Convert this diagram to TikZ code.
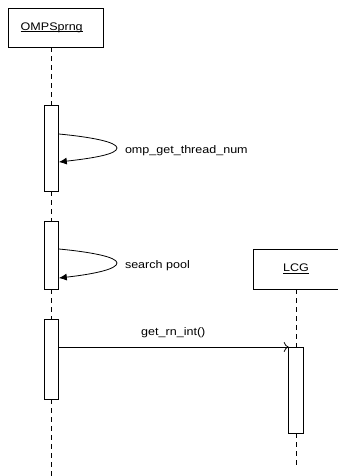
\documentclass[tikz,border=0pt]{standalone}
\usepackage{fontspec}
\setmainfont{Liberation Sans}
\usepackage{graphicx}
\usetikzlibrary{arrows.meta,calc}
% label font: Arial-like, slightly widened
\newcommand\lblfont{\fontsize{11}{13}\selectfont}
\newcommand\wide[1]{\scalebox{1.14}[1]{#1}}
% underline that sits just under the baseline
\newcommand\baseul[1]{\setbox0\hbox{#1}\rlap{\rule[-1.8pt]{\wd0}{0.7pt}}\box0}
\begin{document}
\begin{tikzpicture}[x=1pt,y=-1pt,
  every node/.style={inner sep=0pt,outer sep=0pt},
  head/.style={draw,line width=0.8pt,font=\lblfont},
  act/.style={draw,fill=white,line width=0.8pt,minimum width=14.6pt},
  life/.style={line width=0.8pt,dash pattern=on 5pt off 4pt},
  msg/.style={line width=0.8pt},
  lbl/.style={font=\lblfont}]
\useasboundingbox[fill=white] (0,0) rectangle (337,476);

% object headers
\node[head,minimum width=95pt,minimum height=39pt] (omp) at (55.6,27.6)
  {\hspace*{-7.8pt}\wide{\baseul{OMPSprng}}};
\node[head,minimum width=86pt,minimum height=40pt] (lcg) at (296,269)
  {\wide{\baseul{LCG}}};

% activation bars
\node[act,minimum height=86pt] (a1) at (51.5,148) {};
\node[act,minimum height=68pt] (a2) at (51.5,255) {};
\node[act,minimum height=80pt] (a3) at (51.5,359) {};
\node[act,minimum height=86pt] (a4) at (296,390) {};

\coordinate (ompend) at (51.5,476);
\coordinate (lcgend) at (296,468);

% lifelines
\draw[life] (omp.south -| a1) -- (a1.north);
\draw[life] (a1.south) -- (a2.north);
\draw[life] (a2.south) -- (a3.north);
\draw[life] (a3.south) -- (ompend);
\draw[life] (lcg.south) -- (a4.north);
\draw[life] (a4.south) -- (lcgend);

% self calls
\coordinate (s1) at ($(a1.east)+(0,-14)$);
\coordinate (t1) at ($(a1.east)+(58.2,0)$);
\coordinate (e1) at ($(a1.east)+(0,14)$);
\draw[msg,-{Latex[length=8pt,width=7pt]}] (s1)
  .. controls +(32,3) and +(0,-6) .. (t1)
  .. controls +(0,6) and +(36,-4) .. (e1);
\node[lbl,anchor=base west] (l1) at (125,153) {\wide{omp\_get\_thread\_num}};

\coordinate (s2) at ($(a2.north east)+(0,28)$);
\coordinate (t2) at ($(a2.north east)+(58.2,42)$);
\coordinate (e2) at ($(a2.north east)+(0,57)$);
\draw[msg,-{Latex[length=8pt,width=7pt]}] (s2)
  .. controls +(32,3) and +(0,-6) .. (t2)
  .. controls +(0,6) and +(36,-4) .. (e2);
\node[lbl,anchor=base west] (l2) at (125,268.3) {\wide{search pool}};

% call to LCG
\draw[msg,-{To[length=5pt,width=10pt]}] (a3.east |- a4.north west) -- (a4.north west);
\node[lbl,anchor=base] (l3) at (173.3,335.5) {\wide{get\_rn\_int()}};
\end{tikzpicture}
\end{document}
